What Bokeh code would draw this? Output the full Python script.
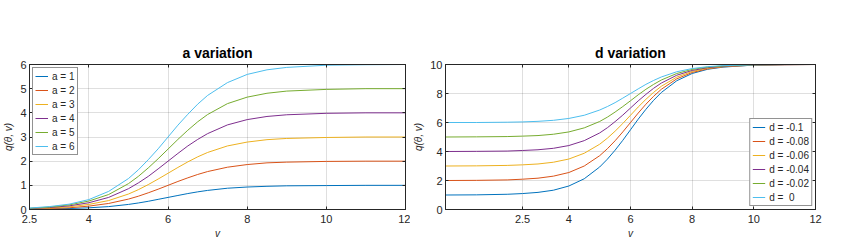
from bokeh.plotting import figure
from bokeh.layouts import row
from bokeh.models import FixedTicker, LinearAxis, Range1d, Legend, LegendItem, CustomLabelingPolicy
from bokeh.embed import file_html
from bokeh.resources import INLINE

# ---- data ----
v_a = [2.5, 3, 3.5, 4, 4.5, 5, 5.25, 5.5, 5.75, 6, 6.25, 6.5, 6.75, 7, 7.5, 8, 8.5, 9, 10, 11, 12]
a_labels = ["a = 1", "a = 2", "a = 3", "a = 4", "a = 5", "a = 6"]
q_a1 = [0.01, 0.02, 0.04, 0.07, 0.12, 0.21, 0.27, 0.34, 0.42, 0.50, 0.58, 0.66, 0.73, 0.79, 0.88, 0.93, 0.96, 0.98, 0.99, 1.00, 1.00]
q_a2 = [0.02, 0.04, 0.07, 0.14, 0.25, 0.43, 0.55, 0.69, 0.84, 1.00, 1.16, 1.31, 1.45, 1.57, 1.75, 1.86, 1.93, 1.96, 1.99, 2.00, 2.00]
q_a3 = [0.03, 0.06, 0.11, 0.21, 0.37, 0.64, 0.82, 1.03, 1.26, 1.50, 1.74, 1.97, 2.18, 2.36, 2.63, 2.79, 2.89, 2.94, 2.98, 3.00, 3.00]
q_a4 = [0.04, 0.08, 0.15, 0.28, 0.50, 0.86, 1.10, 1.37, 1.68, 2.00, 2.32, 2.63, 2.90, 3.14, 3.50, 3.72, 3.85, 3.92, 3.98, 4.00, 4.00]
q_a5 = [0.05, 0.10, 0.19, 0.35, 0.62, 1.07, 1.37, 1.72, 2.10, 2.50, 2.90, 3.28, 3.63, 3.93, 4.38, 4.65, 4.81, 4.90, 4.97, 5.00, 5.00]
q_a6 = [0.06, 0.12, 0.22, 0.41, 0.75, 1.28, 1.64, 2.06, 2.51, 3.00, 3.49, 3.94, 4.36, 4.72, 5.25, 5.59, 5.78, 5.88, 5.97, 5.99, 6.00]

v_d = [0, 1, 2, 2.5, 3, 3.5, 4, 4.5, 5, 5.25, 5.5, 5.75, 6, 6.25, 6.5, 6.75, 7, 7.5, 8, 8.5, 9, 10, 11, 12]
d_labels = ["d = -0.1", "d = -0.08", "d = -0.06", "d = -0.04", "d = -0.02", "d =  0"]
q_d1 = [1.00, 1.01, 1.05, 1.10, 1.18, 1.33, 1.62, 2.12, 2.93, 3.47, 4.09, 4.77, 5.50, 6.23, 6.91, 7.53, 8.07, 8.88, 9.38, 9.67, 9.82, 9.96, 9.99, 10.00]
q_d2 = [2.00, 2.01, 2.04, 2.09, 2.16, 2.30, 2.55, 3.00, 3.71, 4.19, 4.74, 5.35, 6.00, 6.65, 7.26, 7.81, 8.29, 9.01, 9.45, 9.70, 9.84, 9.96, 9.99, 10.00]
q_d3 = [3.00, 3.01, 3.04, 3.08, 3.14, 3.26, 3.48, 3.88, 4.50, 4.92, 5.40, 5.93, 6.50, 7.07, 7.60, 8.08, 8.50, 9.13, 9.52, 9.74, 9.86, 9.97, 9.99, 10.00]
q_d4 = [4.00, 4.01, 4.03, 4.07, 4.12, 4.22, 4.41, 4.75, 5.28, 5.64, 6.06, 6.51, 7.00, 7.49, 7.94, 8.36, 8.72, 9.26, 9.59, 9.78, 9.88, 9.97, 9.99, 10.00]
q_d5 = [5.00, 5.01, 5.03, 5.06, 5.10, 5.19, 5.35, 5.63, 6.07, 6.37, 6.72, 7.10, 7.50, 7.91, 8.29, 8.63, 8.93, 9.38, 9.66, 9.82, 9.90, 9.98, 10.00, 10.00]
q_d6 = [6.00, 6.00, 6.02, 6.04, 6.08, 6.15, 6.28, 6.50, 6.86, 7.10, 7.37, 7.68, 8.00, 8.32, 8.63, 8.90, 9.14, 9.50, 9.72, 9.85, 9.92, 9.98, 10.00, 10.00]

x_ticks = [2.5, 4, 6, 8, 10, 12]
x_tick_labels = ["2.5", "4", "6", "8", "10", "12"]
y_ticks_a = [0, 1, 2, 3, 4, 5, 6]
y_ticks_d = [0, 2, 4, 6, 8, 10]

colors = ["#0072BD", "#D95319", "#EDB120", "#7E2F8E", "#77AC30", "#4DBEEE"]

FONT = "Liberation Sans"
DARK = "#262626"

NO_LABELS = """
try { indices.clear(); } catch (e) { for (const i of Array.from(indices)) { indices.unset(i); } }
return indices;
"""


def mirror_axis(ticks):
    return LinearAxis(ticker=FixedTicker(ticks=ticks),
                      major_label_policy=CustomLabelingPolicy(code=NO_LABELS),
                      major_label_text_font_size="1px", major_label_standoff=0,
                      major_tick_in=3, major_tick_out=0,
                      axis_line_color=DARK, major_tick_line_color=DARK,
                      minor_tick_line_color=None)


def style(p, yticks, title):
    p.title.text = title
    p.title.align = "center"
    p.title.text_font = FONT
    p.title.text_font_size = "14px"
    p.title.text_font_style = "bold"
    p.title.text_color = "#000000"
    p.title.standoff = 0
    p.outline_line_color = DARK
    p.outline_line_width = 1
    p.outline_line_alpha = 1
    xa = p.xaxis[0]
    ya = p.yaxis[0]
    xa.ticker = FixedTicker(ticks=x_ticks)
    xa.major_label_overrides = {t: l for t, l in zip(x_ticks, x_tick_labels)}
    ya.ticker = FixedTicker(ticks=yticks)
    for ax in (xa, ya):
        ax.axis_line_color = DARK
        ax.major_tick_line_color = DARK
        ax.major_tick_in = 3
        ax.major_tick_out = 0
        ax.minor_tick_line_color = None
        ax.major_label_text_font = FONT
        ax.major_label_text_font_size = "11px"
        ax.major_label_text_color = DARK
        ax.axis_label_text_font = FONT
        ax.axis_label_text_font_size = "10px"
        ax.axis_label_text_font_style = "italic"
        ax.axis_label_text_color = DARK
    xa.major_label_standoff = 5
    xa.axis_label_standoff = 2
    ya.major_label_standoff = 3
    ya.axis_label_standoff = 3
    xa.axis_label = "v"
    ya.axis_label = "q(θ, v)"
    p.xgrid.ticker = FixedTicker(ticks=x_ticks)
    p.ygrid.ticker = FixedTicker(ticks=yticks)
    for g in (p.xgrid[0], p.ygrid[0]):
        g.grid_line_color = DARK
        g.grid_line_alpha = 0.15
    p.add_layout(mirror_axis(x_ticks), "above")
    p.add_layout(mirror_axis(yticks), "right")


# ---- left: a variation ----
p1 = figure(width=410, height=241, x_range=Range1d(2.5, 12), y_range=Range1d(0, 6),
            output_backend="svg", toolbar_location=None,
            min_border_left=29, min_border_right=5, min_border_top=64, min_border_bottom=32)
style(p1, y_ticks_a, "a variation")
items1 = []
for ys, c, lab in zip([q_a1, q_a2, q_a3, q_a4, q_a5, q_a6], colors, a_labels):
    r = p1.line(v_a, ys, line_color=c, line_width=1)
    items1.append(LegendItem(label=lab, renderers=[r]))
leg1 = Legend(items=items1, location="top_left")
p1.add_layout(leg1)

# ---- right: d variation ----
p2 = figure(width=441, height=241, x_range=Range1d(0, 12), y_range=Range1d(0, 10),
            output_backend="svg", toolbar_location=None,
            min_border_left=28, min_border_right=36, min_border_top=64, min_border_bottom=32)
style(p2, y_ticks_d, "d variation")
items2 = []
for ys, c, lab in zip([q_d1, q_d2, q_d3, q_d4, q_d5, q_d6], colors, d_labels):
    r = p2.line(v_d, ys, line_color=c, line_width=1)
    items2.append(LegendItem(label=lab, renderers=[r]))
leg2 = Legend(items=items2, location="bottom_right")
p2.add_layout(leg2)

for lg in (leg1, leg2):
    lg.label_text_font = FONT
    lg.label_text_font_size = "10px"
    lg.label_text_color = DARK
    lg.label_height = 12
    lg.label_standoff = 4
    lg.glyph_width = 13
    lg.glyph_height = 12
    lg.spacing = 2
    lg.padding = 2
    lg.margin = 3
    lg.border_line_color = DARK
    lg.border_line_width = 1
    lg.background_fill_alpha = 1

layout = row(p1, p2)
open("out.html", "w").write(file_html(layout, INLINE))
